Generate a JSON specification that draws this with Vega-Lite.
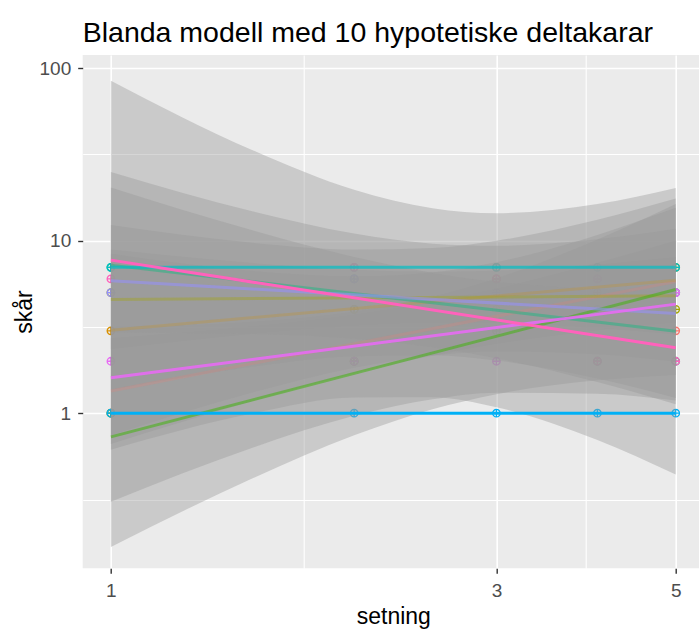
{
  "$schema": "https://vega.github.io/schema/vega-lite/v6.json",
  "width": 616.3,
  "height": 513.3,
  "autosize": "none",
  "padding": {"left": 82.7, "top": 55, "right": 0, "bottom": 61.7},
  "background": "white",
  "title": {
    "text": "Blanda modell med 10 hypotetiske deltakarar",
    "anchor": "start",
    "frame": "group",
    "font": "Liberation Sans",
    "fontSize": 28.5,
    "fontWeight": "normal",
    "color": "black",
    "baseline": "alphabetic",
    "offset": -15
  },
  "config": {"view": {"fill": "#EBEBEB", "stroke": null}, "font": "Liberation Sans"},
  "datasets": {
    "pts": [
      {"g": "01", "x": 1, "y": 1}, {"g": "01", "x": 2, "y": 2}, {"g": "01", "x": 3, "y": 4}, {"g": "01", "x": 4, "y": 6}, {"g": "01", "x": 5, "y": 3},
      {"g": "02", "x": 1, "y": 3}, {"g": "02", "x": 2, "y": 4}, {"g": "02", "x": 3, "y": 6}, {"g": "02", "x": 4, "y": 5}, {"g": "02", "x": 5, "y": 7},
      {"g": "03", "x": 1, "y": 5}, {"g": "03", "x": 2, "y": 4}, {"g": "03", "x": 3, "y": 5}, {"g": "03", "x": 4, "y": 4}, {"g": "03", "x": 5, "y": 4},
      {"g": "04", "x": 1, "y": 1}, {"g": "04", "x": 2, "y": 2}, {"g": "04", "x": 3, "y": 3}, {"g": "04", "x": 4, "y": 4}, {"g": "04", "x": 5, "y": 5},
      {"g": "05", "x": 1, "y": 7}, {"g": "05", "x": 2, "y": 6}, {"g": "05", "x": 3, "y": 7}, {"g": "05", "x": 4, "y": 2}, {"g": "05", "x": 5, "y": 2},
      {"g": "06", "x": 1, "y": 7}, {"g": "06", "x": 2, "y": 7}, {"g": "06", "x": 3, "y": 7}, {"g": "06", "x": 4, "y": 7}, {"g": "06", "x": 5, "y": 7},
      {"g": "07", "x": 1, "y": 1}, {"g": "07", "x": 2, "y": 1}, {"g": "07", "x": 3, "y": 1}, {"g": "07", "x": 4, "y": 1}, {"g": "07", "x": 5, "y": 1},
      {"g": "08", "x": 1, "y": 5}, {"g": "08", "x": 2, "y": 6}, {"g": "08", "x": 3, "y": 5}, {"g": "08", "x": 4, "y": 4}, {"g": "08", "x": 5, "y": 5},
      {"g": "09", "x": 1, "y": 2}, {"g": "09", "x": 2, "y": 2}, {"g": "09", "x": 3, "y": 2}, {"g": "09", "x": 4, "y": 6}, {"g": "09", "x": 5, "y": 5},
      {"g": "10", "x": 1, "y": 6}, {"g": "10", "x": 2, "y": 7}, {"g": "10", "x": 3, "y": 6}, {"g": "10", "x": 4, "y": 2}, {"g": "10", "x": 5, "y": 2}
    ],
    "rib": [
      {"g": "01", "x": 1, "lo": 0.664, "hi": 2.73}, {"g": "01", "x": 1.5, "lo": 1.176, "hi": 3.21}, {"g": "01", "x": 2, "lo": 1.696, "hi": 3.75}, {"g": "01", "x": 2.5, "lo": 2.153, "hi": 4.44}, {"g": "01", "x": 3, "lo": 2.515, "hi": 5.29}, {"g": "01", "x": 4, "lo": 3.013, "hi": 7.43}, {"g": "01", "x": 5, "lo": 3.347, "hi": 10.03},
      {"g": "02", "x": 1, "lo": 0.745, "hi": 12.3}, {"g": "02", "x": 1.5, "lo": 1.321, "hi": 9.71}, {"g": "02", "x": 2, "lo": 1.833, "hi": 8.89}, {"g": "02", "x": 2.5, "lo": 2.16, "hi": 9.07}, {"g": "02", "x": 3, "lo": 2.28, "hi": 9.98}, {"g": "02", "x": 4, "lo": 2.195, "hi": 13.19}, {"g": "02", "x": 5, "lo": 1.987, "hi": 17.53},
      {"g": "03", "x": 1, "lo": 2.344, "hi": 8.87}, {"g": "03", "x": 1.5, "lo": 2.874, "hi": 7.41}, {"g": "03", "x": 2, "lo": 3.2, "hi": 6.77}, {"g": "03", "x": 2.5, "lo": 3.33, "hi": 6.59}, {"g": "03", "x": 3, "lo": 3.32, "hi": 6.69}, {"g": "03", "x": 4, "lo": 3.105, "hi": 7.28}, {"g": "03", "x": 5, "lo": 2.854, "hi": 8.03},
      {"g": "04", "x": 1, "lo": 0.168, "hi": 3.17}, {"g": "04", "x": 1.5, "lo": 0.421, "hi": 3.4}, {"g": "04", "x": 2, "lo": 0.744, "hi": 3.89}, {"g": "04", "x": 2.5, "lo": 1.054, "hi": 4.74}, {"g": "04", "x": 3, "lo": 1.289, "hi": 6.05}, {"g": "04", "x": 4, "lo": 1.551, "hi": 10.15}, {"g": "04", "x": 5, "lo": 1.666, "hi": 16.31},
      {"g": "05", "x": 1, "lo": 0.615, "hi": 84.5}, {"g": "05", "x": 1.5, "lo": 1.0, "hi": 33.3}, {"g": "05", "x": 2, "lo": 1.234, "hi": 19.7}, {"g": "05", "x": 2.5, "lo": 1.239, "hi": 15.4}, {"g": "05", "x": 3, "lo": 1.082, "hi": 14.4}, {"g": "05", "x": 4, "lo": 0.699, "hi": 16.3}, {"g": "05", "x": 5, "lo": 0.441, "hi": 20.2},
      {"g": "08", "x": 1, "lo": 1.368, "hi": 25.0}, {"g": "08", "x": 1.5, "lo": 1.865, "hi": 14.73}, {"g": "08", "x": 2, "lo": 2.14, "hi": 10.98}, {"g": "08", "x": 2.5, "lo": 2.17, "hi": 9.6}, {"g": "08", "x": 3, "lo": 2.02, "hi": 9.33}, {"g": "08", "x": 4, "lo": 1.588, "hi": 10.17}, {"g": "08", "x": 5, "lo": 1.225, "hi": 11.7},
      {"g": "09", "x": 1, "lo": 0.3066, "hi": 8.38}, {"g": "09", "x": 1.5, "lo": 0.633, "hi": 6.66}, {"g": "09", "x": 2, "lo": 0.965, "hi": 6.21}, {"g": "09", "x": 2.5, "lo": 1.203, "hi": 6.54}, {"g": "09", "x": 3, "lo": 1.314, "hi": 7.49}, {"g": "09", "x": 4, "lo": 1.298, "hi": 10.77}, {"g": "09", "x": 5, "lo": 1.186, "hi": 15.49},
      {"g": "10", "x": 1, "lo": 2.93, "hi": 20.3}, {"g": "10", "x": 1.5, "lo": 2.88, "hi": 11.43}, {"g": "10", "x": 2, "lo": 2.7, "hi": 8.03}, {"g": "10", "x": 2.5, "lo": 2.41, "hi": 6.5}, {"g": "10", "x": 3, "lo": 2.08, "hi": 5.77}, {"g": "10", "x": 4, "lo": 1.515, "hi": 5.23}, {"g": "10", "x": 5, "lo": 1.128, "hi": 5.08}
    ],
    "fit": [
      {"g": "01", "x": 1, "y": 1.346}, {"g": "01", "x": 5, "y": 5.794},
      {"g": "02", "x": 1, "y": 3.027}, {"g": "02", "x": 5, "y": 5.902},
      {"g": "03", "x": 1, "y": 4.56}, {"g": "03", "x": 5, "y": 4.786},
      {"g": "04", "x": 1, "y": 0.7295}, {"g": "04", "x": 5, "y": 5.212},
      {"g": "05", "x": 1, "y": 7.211}, {"g": "05", "x": 5, "y": 2.985},
      {"g": "06", "x": 1, "y": 7}, {"g": "06", "x": 5, "y": 7},
      {"g": "07", "x": 1, "y": 1}, {"g": "07", "x": 5, "y": 1},
      {"g": "08", "x": 1, "y": 5.848}, {"g": "08", "x": 5, "y": 3.784},
      {"g": "09", "x": 1, "y": 1.603}, {"g": "09", "x": 5, "y": 4.285},
      {"g": "10", "x": 1, "y": 7.709}, {"g": "10", "x": 5, "y": 2.393}
    ]
  },
  "resolve": {"scale": {"color": "independent"}},
  "encoding": {
    "x": {
      "field": "x",
      "type": "quantitative",
      "scale": {"type": "log", "domain": [0.9228, 5.343], "nice": false, "zero": false},
      "axis": {
        "title": "setning",
        "values": [1, 1.7320508, 3, 3.8729833, 5],
        "labelExpr": "datum.value == 1 ? '1' : datum.value == 3 ? '3' : datum.value == 5 ? '5' : ''",
        "grid": true,
        "gridColor": "white",
        "gridWidth": {"condition": {"test": "datum.value == 1 || datum.value == 3 || datum.value == 5", "value": 1.6}, "value": 1.1},
        "tickOpacity": {"condition": {"test": "datum.value == 1 || datum.value == 3 || datum.value == 5", "value": 1}, "value": 0},
        "tickColor": "#333333",
        "tickWidth": 1.4,
        "tickSize": 5,
        "domain": false,
        "labelFont": "Liberation Sans",
        "labelFontSize": 19,
        "labelColor": "#4D4D4D",
        "labelPadding": 23,
        "labelBaseline": "alphabetic",
        "labelFlush": false,
        "labelOverlap": false,
        "titleFont": "Liberation Sans",
        "titleFontSize": 23,
        "titleFontWeight": "normal",
        "titleColor": "black",
        "titleBaseline": "alphabetic",
        "titleAlign": "center",
        "titleX": 310.6,
        "titleY": 55.5
      }
    }
  },
  "layer": [
    {
      "data": {"name": "pts"},
      "mark": {"type": "point", "shape": "M-1,0A1,1,0,1,1,1,0A1,1,0,1,1,-1,0M-1,0L1,0M0,-1L0,1", "filled": false, "strokeWidth": 1.3, "size": 56, "opacity": 1},
      "encoding": {
        "y": {
          "field": "y",
          "type": "quantitative",
          "scale": {"type": "log", "domain": [0.1263, 118.95], "nice": false, "zero": false},
          "axis": {
            "title": "skår",
            "values": [0.31622777, 1, 3.1622777, 10, 31.622777, 100],
            "labelExpr": "datum.value == 1 ? '1' : datum.value == 10 ? '10' : datum.value == 100 ? '100' : ''",
            "grid": true,
            "gridColor": "white",
            "gridWidth": {"condition": {"test": "datum.value == 1 || datum.value == 10 || datum.value == 100", "value": 1.6}, "value": 1.1},
            "tickOpacity": {"condition": {"test": "datum.value == 1 || datum.value == 10 || datum.value == 100", "value": 1}, "value": 0},
            "tickColor": "#333333",
            "tickWidth": 1.4,
            "tickSize": 5,
            "domain": false,
            "labelFont": "Liberation Sans",
            "labelFontSize": 19,
            "labelColor": "#4D4D4D",
            "labelPadding": 7,
            "labelBaseline": "middle",
            "labelFlush": false,
            "labelOverlap": false,
            "titleFont": "Liberation Sans",
            "titleFontSize": 23,
            "titleFontWeight": "normal",
            "titleColor": "black",
            "titleBaseline": "alphabetic",
            "titleAlign": "center",
            "titleAngle": -90,
            "titleX": -51,
            "titleY": 256.6
          }
        },
        "color": {
          "field": "g",
          "type": "nominal",
          "scale": {"domain": ["01", "02", "03", "04", "05", "06", "07", "08", "09", "10"], "range": ["#F8766D", "#D89000", "#A3A500", "#39B600", "#00BF7D", "#00BFC4", "#00B0F6", "#9590FF", "#E76BF3", "#FF62BC"]},
          "legend": null
        }
      }
    },
    {
      "data": {"name": "rib"},
      "mark": {"type": "area", "color": "#999999", "opacity": 0.4, "interpolate": "monotone"},
      "encoding": {
        "y": {"field": "lo", "type": "quantitative", "scale": {"type": "log", "domain": [0.1263, 118.95], "nice": false, "zero": false}},
        "y2": {"field": "hi"},
        "detail": {"field": "g", "type": "nominal"}
      }
    },
    {
      "data": {"name": "fit"},
      "mark": {"type": "line", "strokeWidth": 3, "opacity": 1},
      "encoding": {
        "y": {"field": "y", "type": "quantitative", "scale": {"type": "log", "domain": [0.1263, 118.95], "nice": false, "zero": false}},
        "color": {
          "field": "g",
          "type": "nominal",
          "scale": {"domain": ["01", "02", "03", "04", "05", "06", "07", "08", "09", "10"], "range": ["rgba(248,118,109,0.2)", "rgba(216,144,0,0.22)", "rgba(163,165,0,0.35)", "rgba(57,182,0,0.5)", "rgba(0,191,125,0.4)", "rgba(0,191,196,0.7)", "#00B0F6", "rgba(149,144,255,0.55)", "rgba(231,107,243,0.9)", "#FF62BC"]},
          "legend": null
        }
      }
    }
  ]
}
